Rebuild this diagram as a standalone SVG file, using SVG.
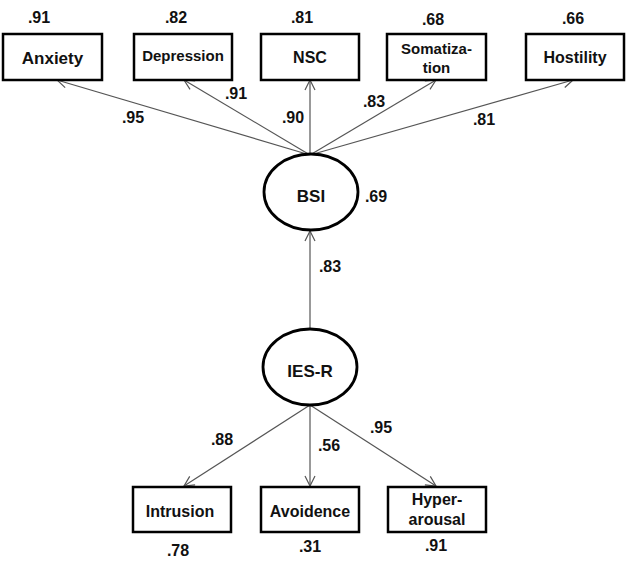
<svg xmlns="http://www.w3.org/2000/svg" width="630" height="565" viewBox="0 0 630 565">
<defs>
<style>
.box{fill:#fff;stroke:#000;stroke-width:2.5}
.ell{fill:#fff;stroke:#000;stroke-width:2.8}
.t{font-family:"Liberation Sans",Arial,sans-serif;font-weight:bold;fill:#111;text-anchor:middle}
.n{font-size:16px}
.lbl{font-size:16px}
.lat{font-size:17px}
.edge{stroke:#555;stroke-width:1.2;fill:none;marker-end:url(#arr)}
</style>
<marker id="arr" viewBox="0 0 12 12" refX="11" refY="6" markerWidth="12" markerHeight="12" markerUnits="userSpaceOnUse" orient="auto">
<path d="M1,1 L11,6 L1,11" fill="none" stroke="#555" stroke-width="1.2"/>
</marker>
</defs>
<rect width="630" height="565" fill="#fff"/>
<g id="connectors">
<line class="edge" x1="310" y1="155" x2="57" y2="80"/>
<line class="edge" x1="310" y1="155" x2="184" y2="80"/>
<line class="edge" x1="310" y1="155" x2="310" y2="80"/>
<line class="edge" x1="310" y1="155" x2="436" y2="80"/>
<line class="edge" x1="310" y1="155" x2="573" y2="80"/>
<line class="edge" x1="310" y1="330" x2="310" y2="231"/>
<line class="edge" x1="310" y1="405" x2="184" y2="486"/>
<line class="edge" x1="310" y1="405" x2="310" y2="486"/>
<line class="edge" x1="310" y1="405" x2="436" y2="486"/>
<text class="t n" x="133" y="123">.95</text>
<text class="t n" x="236" y="99">.91</text>
<text class="t n" x="293" y="123">.90</text>
<text class="t n" x="374" y="107">.83</text>
<text class="t n" x="484" y="125">.81</text>
<text class="t n" x="330" y="272">.83</text>
<text class="t n" x="222" y="445">.88</text>
<text class="t n" x="329" y="451">.56</text>
<text class="t n" x="381" y="433">.95</text>
</g>
<g id="anxiety">
<rect class="box" x="3" y="34" width="99" height="46"/>
<text class="t" style="font-size:17px" x="52.5" y="64">Anxiety</text>
<text class="t n" x="39" y="23">.91</text>
</g>
<g id="depression">
<rect class="box" x="134" y="34" width="98" height="46"/>
<text class="t" style="font-size:15px" x="183" y="61">Depression</text>
<text class="t n" x="176" y="23">.82</text>
</g>
<g id="nsc">
<rect class="box" x="261" y="34" width="98" height="46"/>
<text class="t lbl" x="310" y="63">NSC</text>
<text class="t n" x="302" y="23">.81</text>
</g>
<g id="somatization">
<rect class="box" x="387" y="34" width="99" height="46"/>
<text class="t" style="font-size:15px" x="436.5" y="54">Somatiza-</text>
<text class="t" style="font-size:15px" x="436.5" y="73">tion</text>
<text class="t n" x="433" y="25">.68</text>
</g>
<g id="hostility">
<rect class="box" x="526" y="34" width="98" height="46"/>
<text class="t lbl" x="575" y="63">Hostility</text>
<text class="t n" x="573" y="24">.66</text>
</g>
<g id="bsi">
<ellipse class="ell" cx="311" cy="192" rx="47" ry="38"/>
<text class="t lat" x="311" y="202">BSI</text>
<text class="t n" x="376" y="202">.69</text>
</g>
<g id="iesr">
<ellipse class="ell" cx="310" cy="367" rx="47" ry="38"/>
<text class="t lat" x="310" y="377">IES-R</text>
</g>
<g id="intrusion">
<rect class="box" x="133" y="487" width="98" height="45"/>
<text class="t lbl" x="180" y="517">Intrusion</text>
<text class="t n" x="178" y="556">.78</text>
</g>
<g id="avoidence">
<rect class="box" x="261" y="487" width="98" height="45"/>
<text class="t lbl" x="310" y="517">Avoidence</text>
<text class="t n" x="310" y="552">.31</text>
</g>
<g id="hyperarousal">
<rect class="box" x="388" y="487" width="98" height="45"/>
<text class="t lbl" x="437" y="505">Hyper-</text>
<text class="t lbl" x="437" y="525">arousal</text>
<text class="t n" x="436" y="551">.91</text>
</g>
</svg>
